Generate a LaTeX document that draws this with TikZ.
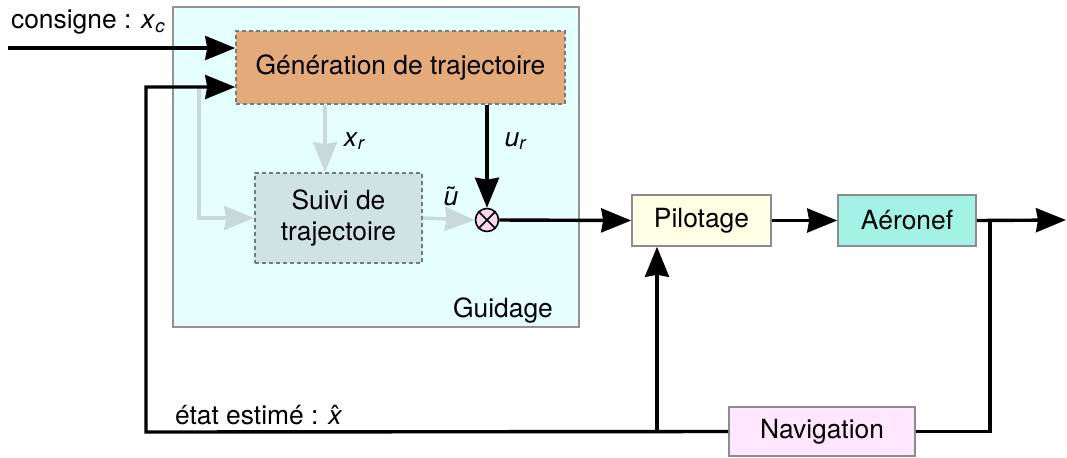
\documentclass[tikz,border=0pt]{standalone}
\usepackage{fontspec}
\setmainfont{TeX Gyre Heros}
\usepackage{tikz}
\usetikzlibrary{calc,arrows.meta,positioning}

\definecolor{guidfill}{HTML}{E5FFFF}
\definecolor{guiddraw}{HTML}{9A8E9E}
\definecolor{genfill}{HTML}{E5AA7A}
\definecolor{suivfill}{HTML}{CFE3E3}
\definecolor{dashcol}{HTML}{6E7E80}
\definecolor{grisfl}{HTML}{C9D9D9}
\definecolor{multfill}{HTML}{F8D8E8}
\definecolor{pilfill}{HTML}{FFFFE5}
\definecolor{aerfill}{HTML}{A2F2E6}
\definecolor{navfill}{HTML}{FFE6FF}
\definecolor{boxdraw}{HTML}{8C8C8C}

\newcommand{\vit}[1]{\textit{#1}}

\begin{document}
\begin{tikzpicture}[x=0.5pt,y=-0.5pt,
        every node/.style={font=\fontsize{13.2}{15.8}\selectfont},
        bloc/.style={draw=boxdraw,line width=0.8pt,inner sep=0pt,align=center},
        blocpt/.style={bloc,draw=dashcol,dash pattern=on 2pt off 1.5pt},
        fl/.style={line width=1.7pt,-{Stealth[length=15pt,width=12pt,inset=1pt]}},
        trait/.style={line width=1.7pt},
        flg/.style={line width=1.7pt,draw=grisfl,-{Stealth[length=15pt,width=12pt,inset=1pt]}}]
        \useasboundingbox (0,0) rectangle (1067,457);
        \draw[fill=guidfill,draw=guiddraw,line width=1pt] (173,7) rectangle (579,327);
        \node (guid) at (503,311) {Guidage};

        \node[blocpt,fill=genfill,minimum width=164.5pt,minimum height=36.5pt] (gen) at (400.5,67.5) {Génération de trajectoire};
        \node[blocpt,fill=suivfill,minimum width=83.5pt,minimum height=45pt] (suivi) at (338.5,218) {Suivi de\\trajectoire};
        \node[circle,draw=black,line width=0.8pt,fill=multfill,minimum size=11.5pt,inner sep=0pt] (mult) at (487,220) {};
        \draw[line width=0.8pt] (mult.north east)--(mult.south west) (mult.north west)--(mult.south east);

        \node[bloc,fill=pilfill,minimum width=69.5pt,minimum height=25.5pt] (pilot) at (701.5,220.5) {Pilotage};
        \node[bloc,fill=aerfill,minimum width=69pt,minimum height=25.5pt] (aero) at (907,220.5) {Aéronef};
        \node[bloc,fill=navfill,minimum width=93pt,minimum height=24.5pt] (nav) at (822,431.5) {Navigation};

        \coordinate (cons) at (8,48);
        \coordinate (ret) at (146,87);
        \coordinate (retb) at (146,432);
        \coordinate (gtap) at (199,87);
        \coordinate (xrx) at (325,0);
        \coordinate (pilx) at (657,0);
        \coordinate (tap) at (990,220);
        \coordinate (out) at (1066,220);

        \draw[flg] (gtap) |- (suivi.west);
        \draw[flg] (gen.south -| xrx) -- (suivi.north -| xrx);
        \draw[flg] (suivi.east) -- (mult.west);

        \draw[fl] (cons) -- (cons -| gen.west);
        \draw[fl] (nav.west) -- (retb) -- (ret) -- (ret -| gen.west);
        \draw[fl] (gen.south -| mult) -- (mult.north);
        \draw[fl] (mult.east) -- (pilot.west);
        \draw[fl] (pilot.east) -- (aero.west);
        \draw[fl] (aero.east) -- (out);
        \draw[trait] (tap) |- (nav.east);
        \draw[fl] (nav.west -| pilx) -- (pilot.south -| pilx);

        \node[anchor=west] (lcons) at (4,22) {consigne : \vit{x}\textsubscript{\vit{c}}};
        \node[anchor=west] (lest) at (168,415) {état estimé : \^{\vit{x}}};
        \node (lxr) at (355,141) {\vit{x}\textsubscript{\vit{r}}};
        \node (lur) at (516,141) {\vit{u}\textsubscript{\vit{r}}};
        \node (lut) at (451,196) {\~{\vit{u}}};
\end{tikzpicture}
\end{document}
